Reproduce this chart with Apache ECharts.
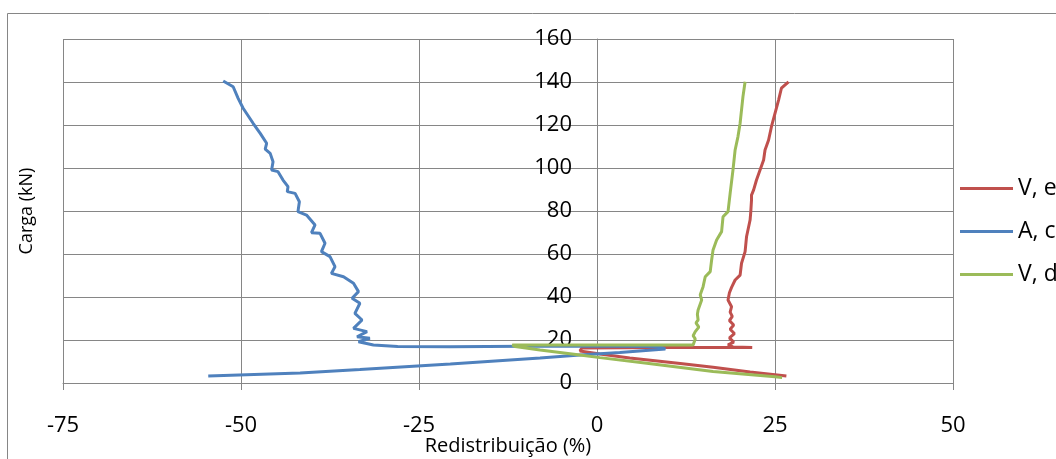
<!DOCTYPE html>
<html><head><meta charset="utf-8">
<script src="https://cdn.jsdelivr.net/npm/echarts@6/dist/echarts.min.js"></script>
<style>html,body{margin:0;padding:0;background:#fff}#c{width:1056px;height:459px}</style>
</head><body><div id="c"></div>
<script>
var seriesNames = ['V, esquerdo', 'A, central', 'V, direito'];
var xTicks = { min: -75, max: 50, interval: 25 };
var yTicks = { min: 0, max: 160, interval: 20 };
var xTitle = 'Redistribuição (%)';
var yTitle = 'Carga (kN)';

var redData = [[26.6,3.3],[21.5,5.1],[16.3,7.3],[11.7,9.1],[4.6,11.6],[0.4,13.5],[-2.4,14.9],[-2.1,16.3],[10,16.5],[21.8,16.5],[19.1,16.8],[18.4,17.7],[19.2,19],[18.6,21],[19.3,23],[18.7,25],[19.2,27],[18.6,29],[19.0,31],[18.7,33],[18.9,35.5],[18.4,38.6],[18.6,42],[18.9,44.5],[19.4,47.9],[20.1,50.2],[20.3,55.7],[20.8,61.1],[21.0,68.0],[21.5,75.8],[21.6,79.7],[21.7,85.1],[21.7,87.4],[22.0,89.8],[22.4,94.4],[22.9,99.1],[23.4,103.7],[23.6,108.4],[24.1,113],[24.5,119.2],[25.0,125.4],[25.5,131.6],[25.9,137.1],[26.9,140.1]];
var blueData = [[-54.6,3.3],[-41.7,4.7],[-33.3,6.3],[-20.6,8.8],[-8.0,11.6],[-2.4,13.0],[3.2,14.2],[9.6,15.8],[8.8,17.0],[-5,17.2],[-20.6,16.9],[-28,17.0],[-31.4,17.7],[-33.5,19.2],[-31.9,20.8],[-33.7,21.5],[-32.3,23.9],[-34.2,25.4],[-33,29.3],[-34,32.4],[-33.3,37.1],[-34.4,39.4],[-33.5,42.5],[-34.2,46.4],[-35.6,49.4],[-37.3,51],[-36.8,54.1],[-37.5,58.8],[-38.7,61.1],[-38.2,65],[-38.9,69.6],[-40.1,69.9],[-39.6,73.5],[-40.8,78.1],[-42,79.7],[-41.8,84.3],[-42.4,88.2],[-43.5,89],[-43.4,91.3],[-44.1,94.4],[-44.8,98.3],[-45.7,99.1],[-45.5,102.9],[-45.9,106.8],[-46.6,108.8],[-46.4,111.5],[-47.3,116.1],[-48.3,120.8],[-49.7,127.8],[-50.4,132.4],[-51.1,137.8],[-52.5,140.5]];
var greenData = [[26.0,2.5],[25.0,2.9],[16.3,5.3],[7.0,9.2],[0.4,11.8],[-2.4,13.0],[-8.0,15.3],[-11.5,17.0],[-11.9,17.7],[0,17.7],[13.5,17.7],[13.3,18.4],[13.8,20.5],[13.5,22],[13.8,23.9],[14.3,26],[13.9,28],[14.2,29.3],[14.1,32],[14.2,34],[14.7,38.6],[14.5,41],[14.9,44.8],[15.2,49.4],[15.9,51.8],[16.1,57.2],[16.3,61.9],[16.8,66.5],[17.5,70.4],[17.7,77.3],[18.4,79.7],[18.7,88.2],[19.1,99.1],[19.4,108.4],[19.8,114.6],[20.1,120.8],[20.3,127],[20.5,133.2],[20.8,140.1]];

var colors = ['#C0504D', '#4F81BD', '#9BBB59'];
var gridColor = '#868686';
var font = 'Open Sans';
var gridLeft = 63, gridRight = 103, plotW = 1056 - gridLeft - gridRight;
// y axis crosses the x axis at x = 0
var yAxisOffset = -plotW * (0 - xTicks.min) / (xTicks.max - xTicks.min);

var chart = echarts.init(document.getElementById('c'), null, {renderer: 'canvas'});
function mk(name, data, color) {
  return { name: name, type: 'line', data: data, showSymbol: false, symbol: 'none',
    lineStyle: { color: color, width: 3 }, itemStyle: { color: color }, animation: false };
}
chart.setOption({
  animation: false,
  grid: { left: gridLeft, right: gridRight, top: 39, bottom: 76, containLabel: false, outerBoundsMode: 'none' },
  graphic: [
    { type: 'rect', shape: { x: 7.5, y: 13.5, width: 1200, height: 600 },
      style: { fill: 'none', stroke: gridColor, lineWidth: 1 }, silent: true },
    { type: 'text', x: 27, y: 211, rotation: Math.PI / 2,
      style: { text: yTitle, fontFamily: font, fontSize: 18, fill: '#000', align: 'center', verticalAlign: 'middle' }, silent: true }
  ],
  legend: {
    orient: 'vertical', left: 960, top: 177, itemWidth: 53, itemHeight: 3, itemGap: 20, padding: 0,
    icon: 'rect',
    textStyle: { fontFamily: font, fontSize: 23, color: '#000', lineHeight: 23 },
    data: seriesNames
  },
  xAxis: {
    type: 'value', min: xTicks.min, max: xTicks.max, interval: xTicks.interval,
    name: xTitle, nameLocation: 'middle', nameGap: 52, nameMoveOverlap: false,
    nameTextStyle: { fontFamily: font, fontSize: 20, color: '#000', lineHeight: 22 },
    axisLine: { show: true, onZero: false, lineStyle: { color: gridColor, width: 1 } },
    axisTick: { show: true, length: 7, lineStyle: { color: gridColor } },
    axisLabel: { fontFamily: font, fontSize: 22, color: '#000', margin: 32 },
    splitLine: { show: true, lineStyle: { color: gridColor, width: 1 } }
  },
  yAxis: {
    type: 'value', min: yTicks.min, max: yTicks.max, interval: yTicks.interval,
    position: 'left', offset: yAxisOffset,
    axisLine: { show: true, onZero: false, lineStyle: { color: gridColor, width: 1 } },
    axisTick: { show: true, length: 7, lineStyle: { color: gridColor } },
    axisLabel: { fontFamily: font, fontSize: 22, color: '#000', margin: 25 },
    splitLine: { show: true, lineStyle: { color: gridColor, width: 1 } }
  },
  series: [mk(seriesNames[0], redData, colors[0]), mk(seriesNames[1], blueData, colors[1]), mk(seriesNames[2], greenData, colors[2])]
});
</script></body></html>
